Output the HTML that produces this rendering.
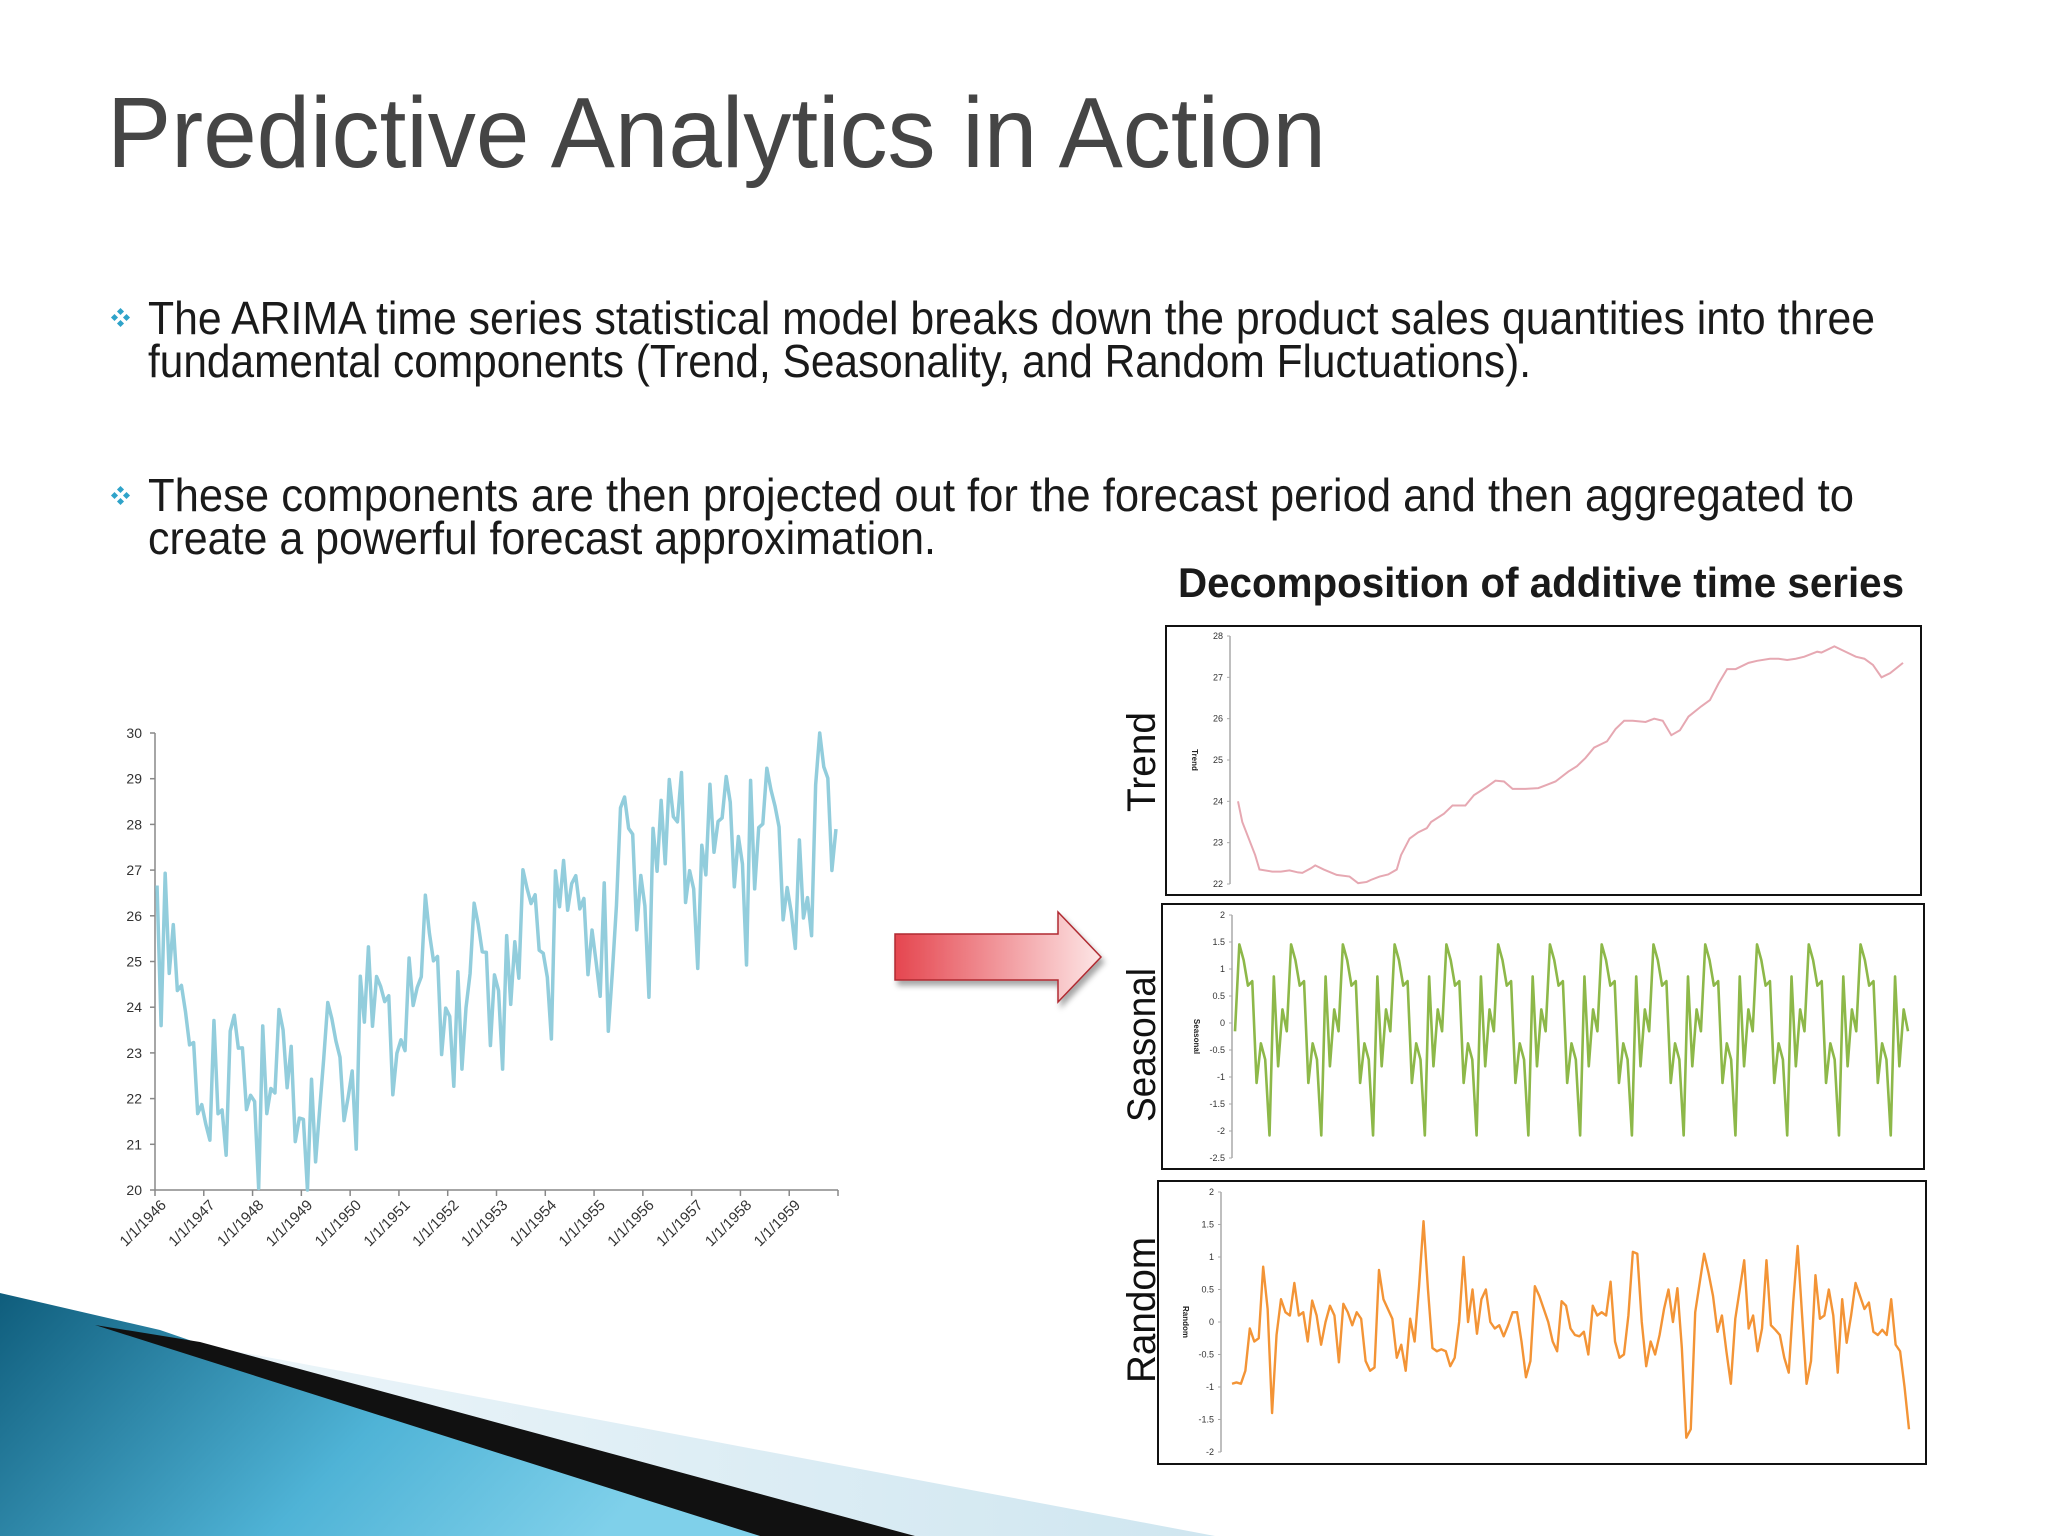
<!DOCTYPE html>
<html><head><meta charset="utf-8"><style>
html,body{margin:0;padding:0;background:#fff;}
svg{display:block;}
text{font-family:"Liberation Sans",sans-serif;}
</style></head><body>
<svg id="page" width="2048" height="1536" viewBox="0 0 2048 1536" xmlns="http://www.w3.org/2000/svg">
<defs>
<linearGradient id="blueg" x1="0" y1="0" x2="1" y2="0.3"><stop offset="0" stop-color="#0f5d7c"/><stop offset="0.6" stop-color="#4fb3d6"/><stop offset="1" stop-color="#7fd0ea"/></linearGradient>
<linearGradient id="lightg" x1="0" y1="0" x2="1" y2="0"><stop offset="0" stop-color="#eef6fa"/><stop offset="1" stop-color="#cfe6f0"/></linearGradient>
<linearGradient id="redg" x1="0" y1="0" x2="1" y2="0"><stop offset="0" stop-color="#e5464f"/><stop offset="1" stop-color="#fde6e6"/></linearGradient>
<filter id="sh" x="-10%" y="-10%" width="130%" height="140%"><feDropShadow dx="3" dy="5" stdDeviation="3" flood-color="#000" flood-opacity="0.35"/></filter>
</defs>
<text x="107" y="167" font-size="100" fill="#454545" textLength="1219" lengthAdjust="spacingAndGlyphs">Predictive Analytics in Action</text>
<g fill="#2fa3c9"><rect x="112" y="315" width="5" height="5" transform="rotate(45 114.5 317.5)"/><rect x="124" y="315" width="5" height="5" transform="rotate(45 126.5 317.5)"/><rect x="118" y="309" width="5" height="5" transform="rotate(45 120.5 311.5)"/><rect x="118" y="321" width="5" height="5" transform="rotate(45 120.5 323.5)"/></g>
<text x="148" y="334" font-size="46" fill="#1a1a1a" textLength="1727" lengthAdjust="spacingAndGlyphs">The ARIMA time series statistical model breaks down the product sales quantities into three</text>
<text x="148" y="377" font-size="46" fill="#1a1a1a" textLength="1383" lengthAdjust="spacingAndGlyphs">fundamental components (Trend, Seasonality, and Random Fluctuations).</text>
<g fill="#2fa3c9"><rect x="112" y="493" width="5" height="5" transform="rotate(45 114.5 495.5)"/><rect x="124" y="493" width="5" height="5" transform="rotate(45 126.5 495.5)"/><rect x="118" y="487" width="5" height="5" transform="rotate(45 120.5 489.5)"/><rect x="118" y="499" width="5" height="5" transform="rotate(45 120.5 501.5)"/></g>
<text x="148" y="511" font-size="46" fill="#1a1a1a" textLength="1706" lengthAdjust="spacingAndGlyphs">These components are then projected out for the forecast period and then aggregated to</text>
<text x="148" y="554" font-size="46" fill="#1a1a1a" textLength="788" lengthAdjust="spacingAndGlyphs">create a powerful forecast approximation.</text>
<text x="1178" y="597" font-size="42" font-weight="bold" fill="#1a1a1a" textLength="726" lengthAdjust="spacingAndGlyphs">Decomposition of additive time series</text>

<g>
<polygon points="150,1335 1215,1536 915,1536" fill="url(#lightg)"/>
<polygon points="0,1293 160,1330 760,1536 0,1536" fill="url(#blueg)"/>
<polygon points="95,1325 200,1342 915,1536 760,1536" fill="#111"/>
</g>

<g filter="url(#sh)">
<polygon points="895,934 1058,934 1058,912 1101,957 1058,1002 1058,980 895,980" fill="url(#redg)" stroke="#b02a30" stroke-width="1.5"/>
</g>

<g id="left"></g>
<g id="trend"></g>
<g id="seasonal"></g>
<g id="random"></g>
</svg>
<script>
// Monthly sales 1946-1959
const salesValues = [
26.663,23.598,26.931,24.740,25.806,24.364,24.477,23.901,23.175,23.227,21.672,21.870,
21.439,21.089,23.709,21.669,21.752,20.761,23.479,23.824,23.105,23.110,21.759,22.073,
21.937,20.035,23.590,21.672,22.222,22.123,23.950,23.504,22.238,23.142,21.059,21.573,
21.548,20.000,22.424,20.615,21.761,22.874,24.104,23.748,23.262,22.907,21.519,22.025,
22.604,20.894,24.677,23.673,25.320,23.583,24.671,24.454,24.122,24.252,22.084,22.991,
23.287,23.049,25.076,24.037,24.430,24.667,26.451,25.618,25.014,25.110,22.964,23.981,
23.798,22.270,24.775,22.646,23.988,24.737,26.276,25.816,25.210,25.199,23.162,24.707,
24.364,22.644,25.565,24.062,25.431,24.635,27.009,26.606,26.268,26.462,25.246,25.180,
24.657,23.304,26.982,26.199,27.210,26.122,26.706,26.878,26.152,26.379,24.712,25.688,
24.990,24.239,26.721,23.475,24.767,26.219,28.361,28.599,27.914,27.784,25.693,26.881,
26.217,24.218,27.914,26.975,28.527,27.139,28.982,28.169,28.056,29.136,26.291,26.987,
26.589,24.848,27.543,26.896,28.878,27.390,28.065,28.141,29.048,28.484,26.634,27.735,
27.132,24.924,28.963,26.589,27.931,28.009,29.229,28.759,28.405,27.945,25.912,26.619,
26.076,25.286,27.660,25.951,26.398,25.565,28.865,30.000,29.261,29.012,26.992,27.897];
const salesYTicks = [20,21,22,23,24,25,26,27,28,29,30];
const yearLabels = ["1/1/1946","1/1/1947","1/1/1948","1/1/1949","1/1/1950","1/1/1951","1/1/1952","1/1/1953","1/1/1954","1/1/1955","1/1/1956","1/1/1957","1/1/1958","1/1/1959"];
// Trend (month index, value)
const trendMonths = [6,7,10,11,14,16,18,20,21,23,24,26,29,32,34,36,37,39,41,43,44,46,48,50,51,54,56,59,61,64,66,68,70,73,76,78,80,83,85,87,89,92,94,96,98,101,103,105,107,109,111,114,116,118,120,122,125,127,130,132,134,136,138,141,142,145,147,150,152,154,156,158,161];
const trendValues = [24.0,23.5,22.7,22.35,22.3,22.3,22.33,22.28,22.27,22.38,22.45,22.35,22.22,22.18,22.02,22.05,22.1,22.18,22.23,22.35,22.7,23.1,23.25,23.35,23.5,23.7,23.9,23.9,24.15,24.35,24.5,24.48,24.3,24.3,24.32,24.4,24.48,24.72,24.85,25.05,25.3,25.45,25.75,25.95,25.95,25.92,26.0,25.95,25.6,25.72,26.05,26.3,26.45,26.85,27.2,27.2,27.35,27.4,27.45,27.45,27.42,27.45,27.5,27.62,27.6,27.75,27.65,27.5,27.45,27.3,27.0,27.1,27.35];
const trendTicks = [22,23,24,25,26,27,28];
// Seasonal figure Jan..Dec
const seasonalFigure = [-0.677,-2.083,0.863,-0.802,0.252,-0.153,1.456,1.165,0.692,0.775,-1.110,-0.377];
const seasonalStart = 5, seasonalEnd = 161;
const seasonalTicks = [-2.5,-2,-1.5,-1,-0.5,0,0.5,1,1.5,2];
// Random component
const randomValues = [-0.95,-0.93,-0.95,-0.75,-0.1,-0.3,-0.25,0.85,0.2,-1.4,-0.2,0.35,0.15,0.1,0.6,0.1,0.15,-0.3,0.33,0.1,-0.35,0.0,0.25,0.1,-0.62,0.28,0.15,-0.05,0.15,0.05,-0.6,-0.75,-0.7,0.8,0.35,0.2,0.05,-0.55,-0.35,-0.75,0.05,-0.3,0.55,1.55,0.5,-0.4,-0.45,-0.42,-0.45,-0.68,-0.55,0.0,1.0,0.0,0.5,-0.18,0.35,0.5,0.0,-0.1,-0.05,-0.22,-0.05,0.15,0.15,-0.3,-0.85,-0.6,0.55,0.4,0.2,0.0,-0.3,-0.45,0.32,0.25,-0.1,-0.2,-0.22,-0.15,-0.5,0.25,0.1,0.15,0.1,0.62,-0.3,-0.55,-0.5,0.1,1.08,1.05,0.0,-0.68,-0.3,-0.5,-0.2,0.2,0.5,0.0,0.52,-0.4,-1.78,-1.65,0.15,0.6,1.05,0.75,0.4,-0.15,0.1,-0.45,-0.95,0.05,0.5,0.95,-0.1,0.1,-0.45,-0.1,0.95,-0.05,-0.12,-0.2,-0.55,-0.78,0.3,1.17,0.1,-0.95,-0.6,0.72,0.05,0.1,0.5,0.1,-0.78,0.35,-0.32,0.1,0.6,0.4,0.2,0.3,-0.15,-0.2,-0.12,-0.2,0.35,-0.35,-0.45,-1.0,-1.65];
const randomTicks = [-2,-1.5,-1,-0.5,0,0.5,1,1.5,2];

const NS = "http://www.w3.org/2000/svg";
function mk(tag, parent, attrs){const e=document.createElementNS(NS,tag);for(const k in attrs)e.setAttribute(k,attrs[k]);parent.appendChild(e);return e;}

// ---- Left chart ----
(function(){
  const g=document.getElementById('left');
  const x0=155,x1=838,yTop=733,yBot=1190,vMin=20,vMax=30,months=168;
  const xs=m=>x0+m*(x1-x0)/months;
  const ys=v=>yBot-(v-vMin)*(yBot-yTop)/(vMax-vMin);
  const ax=mk('line',g,{x1:x0,y1:yTop,x2:x0,y2:yBot,stroke:'#888','stroke-width':1.5});
  
  
  const bx=mk('line',g,{x1:x0,y1:yBot,x2:x1,y2:yBot,stroke:'#888','stroke-width':1.5});
  
  
  salesYTicks.forEach(v=>{
    mk('line',g,{x1:x0-5,y1:ys(v),x2:x0,y2:ys(v),stroke:'#888','stroke-width':1.5});
    const t=mk('text',g,{x:x0-13,y:ys(v)+5,'font-size':14,fill:'#333','text-anchor':'end'});
    t.textContent=v;
    
    
  });
  for(let i=0;i<=14;i++){mk('line',g,{x1:xs(i*12),y1:yBot,x2:xs(i*12),y2:yBot+6,stroke:'#888','stroke-width':1.5});}
  yearLabels.forEach((s,i)=>{
    const x=xs(i*12)+12,y=yBot+16;
    const t=mk('text',g,{x:x,y:y,'font-size':15,fill:'#333','text-anchor':'end',transform:`rotate(-45 ${x} ${y})`});
    t.textContent=s;
    
    
  });
  const p=mk('polyline',g,{points:salesValues.map((v,i)=>xs(i+0.5)+','+ys(v)).join(' '),fill:'none',stroke:'#92cddc','stroke-width':3.5,'stroke-linejoin':'round'});
  
  
})();

// ---- Panels ----
function panel(id, box, axisX, yTop, yBot, vMax, vMin, ticks, xL, xR, mStart, mEnd, bigLabel, bigY, bigLen, smallLabel){
  const g=document.getElementById(id);
  const r=mk('rect',g,{x:box[0],y:box[1],width:box[2]-box[0],height:box[3]-box[1],fill:'#fff',stroke:'#111','stroke-width':2});
  
  
  const ys=v=>yBot-(v-vMin)*(yBot-yTop)/(vMax-vMin);
  const xs=m=>xL+(m-mStart)*(xR-xL)/(mEnd-mStart);
  mk('line',g,{x1:axisX,y1:yTop,x2:axisX,y2:yBot,stroke:'#aaa','stroke-width':1.5});
  ticks.forEach(v=>{
    mk('line',g,{x1:axisX-3,y1:ys(v),x2:axisX,y2:ys(v),stroke:'#aaa','stroke-width':1});
    const t=mk('text',g,{x:axisX-7,y:ys(v)+3,'font-size':9,fill:'#333','text-anchor':'end'});
    t.textContent=v;
    
    
  });
  const cy=(yTop+yBot)/2, sx=axisX-38;
  const sl=mk('text',g,{x:sx,y:cy,'font-size':8,'font-weight':'bold',fill:'#222','text-anchor':'middle',transform:`rotate(90 ${sx} ${cy})`});
  sl.textContent=smallLabel;
  
  
  const bl=mk('text',g,{x:1141,y:bigY,'font-size':40,fill:'#111','text-anchor':'middle',textLength:bigLen,lengthAdjust:'spacingAndGlyphs',transform:`rotate(-90 1141 ${bigY})`,dy:14});
  bl.textContent=bigLabel;
  
  
  return {g,xs,ys};
}

(function(){
  const P=panel('trend',[1166,626,1921,895],1230,636,884,28,22,trendTicks,1238,1903,6,161,'Trend',762,100,'Trend');
  const l=mk('polyline',P.g,{points:trendMonths.map((m,i)=>P.xs(m)+','+P.ys(trendValues[i])).join(' '),fill:'none',stroke:'#e6a8b2','stroke-width':2});
  
  
})();

(function(){
  const P=panel('seasonal',[1162,904,1924,1169],1232,915,1158,2,-2.5,seasonalTicks,1235,1908,seasonalStart,seasonalEnd,'Seasonal',1045,154,'Seasonal');
  const pts=[];
  for(let m=seasonalStart;m<=seasonalEnd;m++){pts.push(P.xs(m)+','+P.ys(seasonalFigure[m%12]));}
  const l=mk('polyline',P.g,{points:pts.join(' '),fill:'none',stroke:'#8db849','stroke-width':2.6,'stroke-linejoin':'round'});
  
  
})();

(function(){
  const n=randomValues.length;
  const P=panel('random',[1158,1181,1926,1464],1221,1192,1452,2,-2,randomTicks,1232,1909,0,n-1,'Random',1310,146,'Random');
  const l=mk('polyline',P.g,{points:randomValues.map((v,i)=>P.xs(i)+','+P.ys(v)).join(' '),fill:'none',stroke:'#f39436','stroke-width':2.4,'stroke-linejoin':'round'});
  
  
})();
</script>
</body></html>
